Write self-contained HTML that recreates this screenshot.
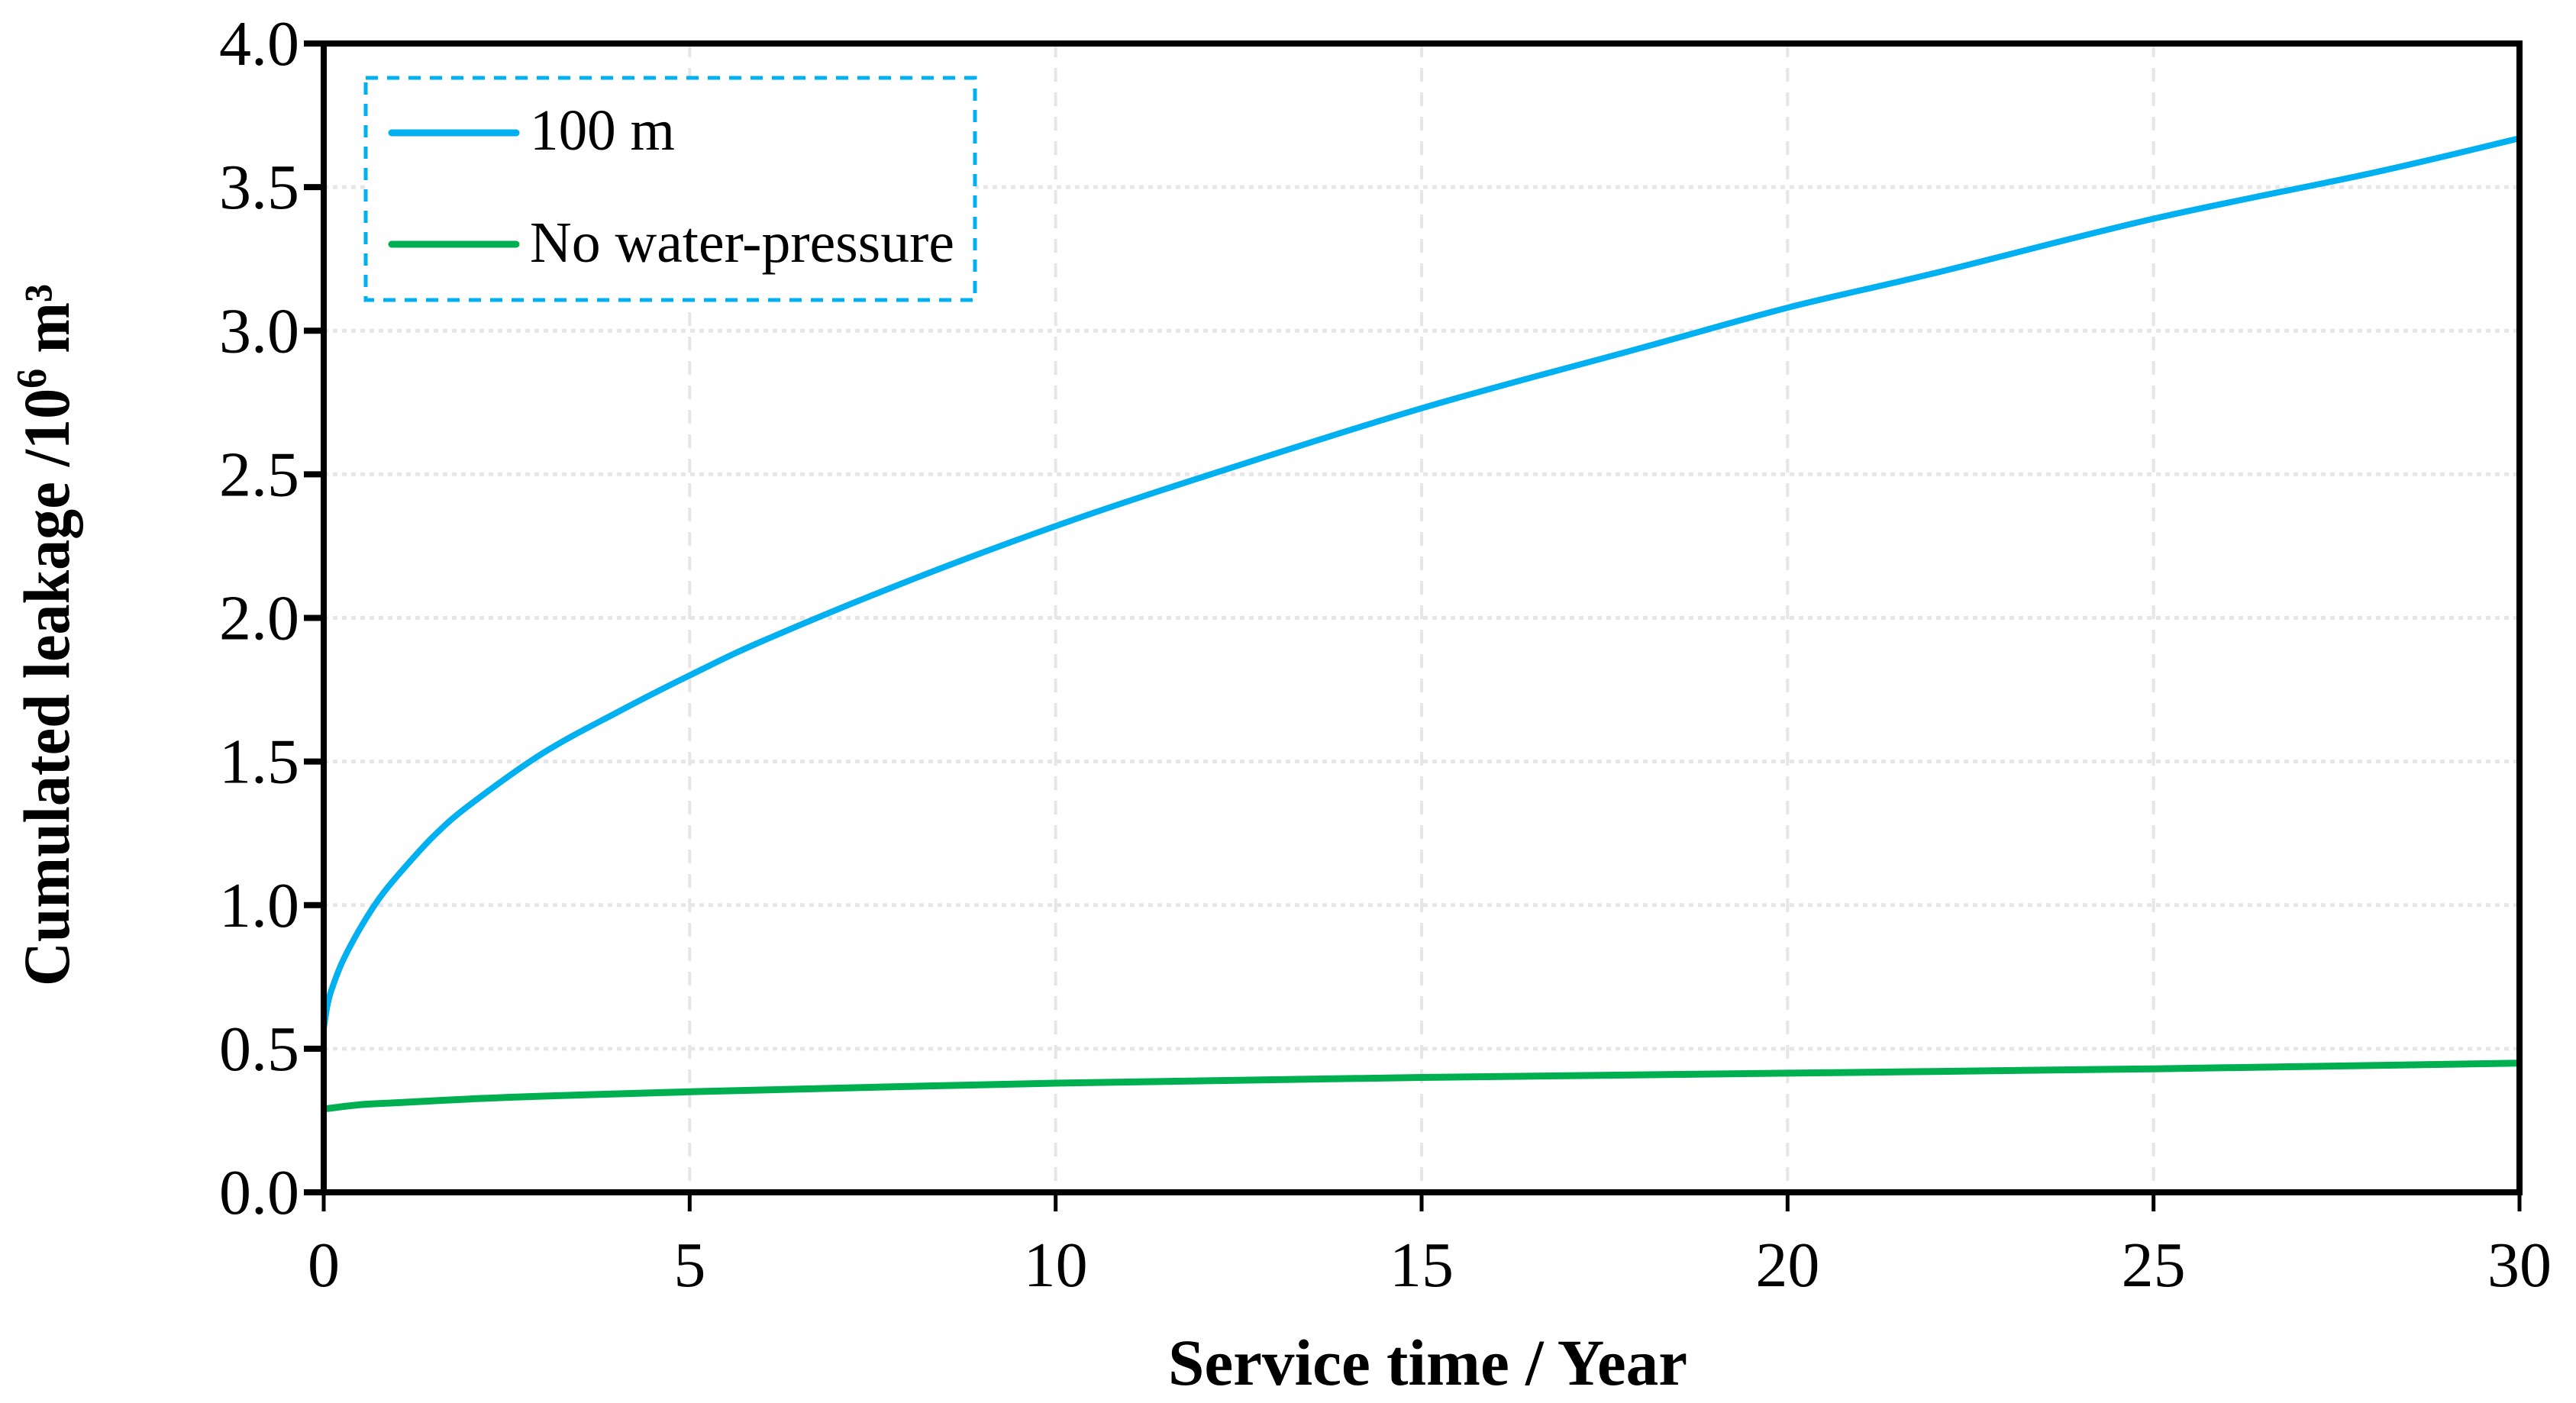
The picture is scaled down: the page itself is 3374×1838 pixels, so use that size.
<!DOCTYPE html>
<html><head><meta charset="utf-8"><style>
html,body{margin:0;padding:0;background:#fff}
svg{display:block}
text{font-family:"Liberation Serif",serif;fill:#000}
</style></head><body>
<svg id="chart" width="3374" height="1838" viewBox="0 0 3374 1838" xmlns="http://www.w3.org/2000/svg">
<g id="grid"></g>
<g id="series"></g>
<g id="axes"></g>
<text x="1870" y="1814" text-anchor="middle" font-size="86" font-weight="bold" textLength="680" lengthAdjust="spacingAndGlyphs">Service time / Year</text>
<text transform="translate(90,832) rotate(-90)" text-anchor="middle" font-size="86" font-weight="bold" textLength="920" lengthAdjust="spacingAndGlyphs">Cumulated leakage /10<tspan font-size="56" dy="-30">6</tspan><tspan dy="30"> m³</tspan></text>
<g>
<rect x="479" y="102" width="798" height="291" fill="#fff" stroke="#00b0f0" stroke-width="5" stroke-dasharray="16,12"/>
<g>
<line x1="513" y1="174" x2="676" y2="174" stroke="#00b0f0" stroke-width="9" stroke-linecap="round"/>
<text x="694" y="196" font-size="76" textLength="190" lengthAdjust="spacingAndGlyphs">100 m</text>
</g>
<g>
<line x1="513" y1="320" x2="676" y2="320" stroke="#00b050" stroke-width="9" stroke-linecap="round"/>
<text x="694" y="343" font-size="76" textLength="556" lengthAdjust="spacingAndGlyphs">No water-pressure</text>
</g>
</g>
</svg>
<script>
const xTicks = [0, 5, 10, 15, 20, 25, 30];
const yTicks = [0, 0.5, 1.0, 1.5, 2.0, 2.5, 3.0, 3.5, 4.0];
const yTickLabels = ["0.0","0.5","1.0","1.5","2.0","2.5","3.0","3.5","4.0"];
const blueT = [0,0.05,0.1,0.25,0.5,0.75,1,1.5,2,3,4,5,6,8,10,12,15,18,20,22,25,28,30];
const blueV = [0.57,0.65,0.70,0.80,0.92,1.02,1.10,1.24,1.35,1.53,1.67,1.80,1.92,2.13,2.32,2.49,2.73,2.94,3.08,3.20,3.39,3.55,3.67];
const greenT = [0,0.5,1,2,3,5,10,15,20,25,30];
const greenV = [0.29,0.305,0.312,0.325,0.335,0.35,0.38,0.40,0.415,0.43,0.45];

const X0=424, X1=3300, Y0=1562, Y1=57;
function sx(t){return X0+(t-0)/(30-0)*(X1-X0);}
function sy(v){return Y0-(v-0)/(4-0)*(Y0-Y1);}
const NS="http://www.w3.org/2000/svg";
function mk(tag,attrs,parent){const e=document.createElementNS(NS,tag);for(const k in attrs)e.setAttribute(k,attrs[k]);parent.appendChild(e);return e;}
const grid=document.getElementById('grid'), axes=document.getElementById('axes'), series=document.getElementById('series');

xTicks.forEach(t=>{
  if(t>0&&t<30){
    const g=mk('line',{x1:sx(t),y1:Y1,x2:sx(t),y2:Y0,stroke:'#e6e6e6','stroke-width':4,'stroke-dasharray':'18,14'},grid);
    
    
  }
  const tk=mk('line',{x1:sx(t),y1:Y0,x2:sx(t),y2:Y0+25,stroke:'#000','stroke-width':5},axes);
  
  
  const lb=mk('text',{x:sx(t),y:1685,'text-anchor':'middle','font-size':84},axes);
  lb.textContent=String(t);
  
  
});
yTicks.forEach((v,i)=>{
  if(v>0&&v<4){
    const g=mk('line',{x1:X0,y1:sy(v),x2:X1,y2:sy(v),stroke:'#e6e6e6','stroke-width':5,'stroke-dasharray':'6,6'},grid);
    
    
  }
  const tk=mk('line',{x1:X0-26,y1:sy(v),x2:X0,y2:sy(v),stroke:'#000','stroke-width':8},axes);
  
  
  const lb=mk('text',{x:X0-32,y:sy(v)+28,'text-anchor':'end','font-size':84},axes);
  lb.textContent=yTickLabels[i];
  
  
});
const frame=mk('rect',{x:X0,y:Y1,width:X1-X0,height:Y0-Y1,fill:'none',stroke:'#000','stroke-width':8},axes);



function path(ts,vs){
  const p=ts.map((t,i)=>[sx(t),sy(vs[i])]);
  let d='M'+p[0][0].toFixed(1)+','+p[0][1].toFixed(1);
  for(let i=0;i<p.length-1;i++){
    const p0=p[Math.max(0,i-1)],p1=p[i],p2=p[i+1],p3=p[Math.min(p.length-1,i+2)];
    const c1=[p1[0]+(p2[0]-p0[0])/6,p1[1]+(p2[1]-p0[1])/6];
    const c2=[p2[0]-(p3[0]-p1[0])/6,p2[1]-(p3[1]-p1[1])/6];
    d+=' C'+c1[0].toFixed(1)+','+c1[1].toFixed(1)+' '+c2[0].toFixed(1)+','+c2[1].toFixed(1)+' '+p2[0].toFixed(1)+','+p2[1].toFixed(1);
  }
  return d;
}
const gl=mk('path',{d:path(greenT,greenV),fill:'none',stroke:'#00b050','stroke-width':9,'stroke-linejoin':'round'},series);


const bl=mk('path',{d:path(blueT,blueV),fill:'none',stroke:'#00b0f0','stroke-width':8,'stroke-linejoin':'round'},series);


</script>
</body></html>
